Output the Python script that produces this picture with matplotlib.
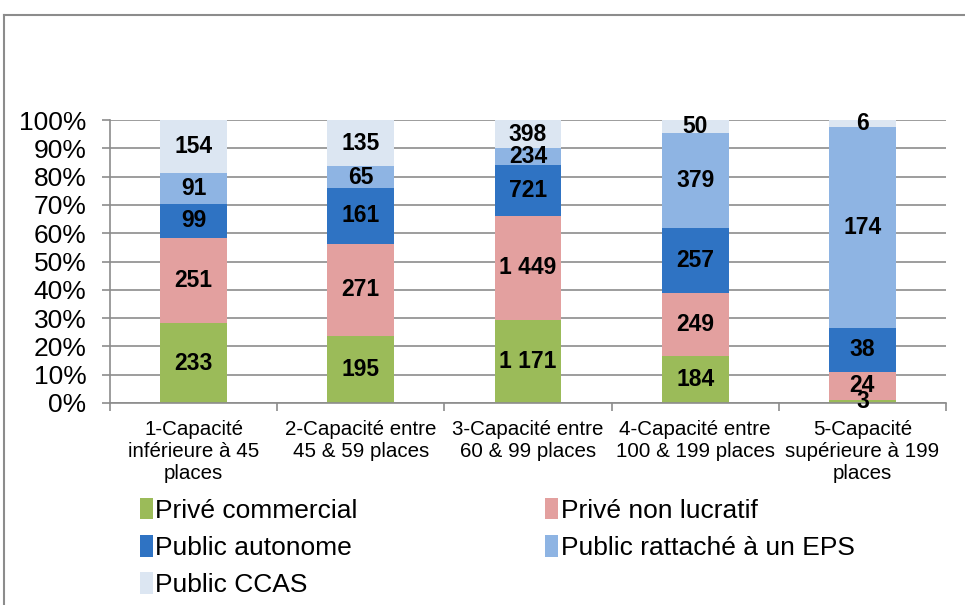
import numpy as np
import matplotlib.pyplot as plt
from matplotlib.lines import Line2D

plt.rcParams['font.family'] = ['Liberation Sans', 'DejaVu Sans']

categories = ["1-Capacité\ninférieure à 45\nplaces",
              "2-Capacité entre\n45 & 59 places",
              "3-Capacité entre\n60 & 99 places",
              "4-Capacité entre\n100 & 199 places",
              "5-Capacité\nsupérieure à 199\nplaces"]
series_names = ["Privé commercial", "Privé non lucratif", "Public autonome",
                "Public rattaché à un EPS", "Public CCAS"]
prive_commercial = [233, 195, 1171, 184, 3]
prive_non_lucratif = [251, 271, 1449, 249, 24]
public_autonome = [99, 161, 721, 257, 38]
public_eps = [91, 65, 234, 379, 174]
public_ccas = [154, 135, 398, 50, 6]
colors = ["#9BBB59", "#E3A09F", "#2F73C3", "#8EB4E3", "#DCE6F2"]

data = np.array([prive_commercial, prive_non_lucratif, public_autonome,
                 public_eps, public_ccas], dtype=float)
totals = data.sum(axis=0)
pct = data / totals * 100

fig = plt.figure(figsize=(9.65, 6.05), dpi=100)
ax = fig.add_axes([110/965, 1-403/605, 836/965, 283/605])

x = np.arange(len(categories))
bottom = np.zeros(len(categories))
handles = []
for i in range(len(series_names)):
    bars = ax.bar(x, pct[i], 0.4, bottom=bottom, color=colors[i],
                  label=series_names[i], zorder=2)
    handles.append(bars)
    for j in range(len(categories)):
        txt = format(int(data[i, j]), ",").replace(",", " ")
        ax.text(x[j], bottom[j] + pct[i, j]/2, txt, ha='center', va='center',
                fontsize=16.5, fontweight='bold', color='black', zorder=3)
    bottom += pct[i]

ax.set_xlim(-0.5, len(categories) - 0.5)
ax.set_ylim(0, 100)
ax.set_yticks(np.arange(0, 101, 10))
ax.set_yticklabels([f"{v}%" for v in range(0, 101, 10)], fontsize=19)
ax.yaxis.grid(True, color='#8C8C8C', linewidth=1.2, zorder=0)
ax.set_axisbelow(True)

ax.set_xticks(x)
ax.set_xticklabels(categories, fontsize=14.8, linespacing=1.22)
ax.set_xticks(np.arange(-0.5, len(categories)), minor=True)
ax.tick_params(axis='x', which='major', length=0, pad=12)
ax.tick_params(axis='x', which='minor', length=6, color='#8C8C8C', width=1.2)
ax.tick_params(axis='y', length=6, color='#8C8C8C', width=1.2, pad=11)

for s in ['top', 'right']:
    ax.spines[s].set_visible(False)
for s in ['left', 'bottom']:
    ax.spines[s].set_color('#8C8C8C')
    ax.spines[s].set_linewidth(1.2)

order = [0, 2, 4, 1, 3]
leg = fig.legend([handles[k] for k in order], [series_names[k] for k in order],
                 ncol=2, loc='upper left', bbox_to_anchor=(129/965, 1-487/605),
                 frameon=False, fontsize=19, handlelength=0.5, handleheight=0.9,
                 handletextpad=0.1, columnspacing=7.1, labelspacing=0.46,
                 borderaxespad=0)

# outer chart frame (partially visible)
fig.add_artist(Line2D([4/965, 4/965], [0, 1-15/605], transform=fig.transFigure,
                      color='#8C8C8C', linewidth=1.5))
fig.add_artist(Line2D([4/965, 1], [1-15/605, 1-15/605], transform=fig.transFigure,
                      color='#8C8C8C', linewidth=1.5))

fig.savefig("out.png", dpi=100)
